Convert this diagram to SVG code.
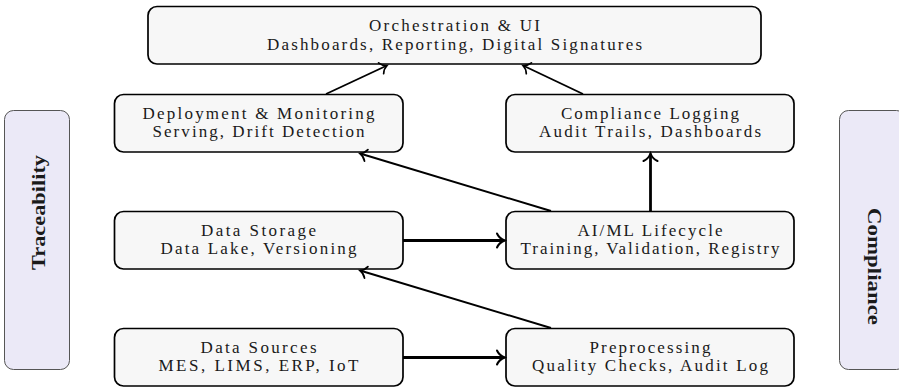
<svg xmlns="http://www.w3.org/2000/svg" width="899" height="387" viewBox="0 0 899 387">
<defs>
<style>
.box{fill:#f7f7f7;stroke:#000;stroke-width:1.7}
.side{fill:#ebe9f7;stroke:#555;stroke-width:1}
.t{font-family:"Liberation Serif","Times New Roman",serif;font-size:17px;fill:#1a1a1a;text-anchor:middle}
.b{font-family:"Liberation Serif","Times New Roman",serif;font-size:19px;font-weight:bold;fill:#1a1a1a;text-anchor:middle}
.thin{stroke:#000;stroke-width:1.9;fill:none;marker-end:url(#ah1)}
.thick{stroke:#000;stroke-width:2.8;fill:none;marker-end:url(#ah2)}
</style>
<marker id="ah1" markerUnits="userSpaceOnUse" viewBox="-10 -8 12 16" refX="0" refY="0" markerWidth="12" markerHeight="16" orient="auto" overflow="visible">
<path d="M-6.5,-6 C-5,-3 -2,-0.8 0,0 C-2,0.8 -5,3 -6.5,6" fill="none" stroke="#000" stroke-width="1.7" stroke-linecap="round"/>
</marker>
<marker id="ah2" markerUnits="userSpaceOnUse" viewBox="-10 -10 12 20" refX="0" refY="0" markerWidth="12" markerHeight="20" orient="auto" overflow="visible">
<path d="M-7.5,-7 C-6,-3.5 -2.5,-1 0,0 C-2.5,1 -6,3.5 -7.5,7" fill="none" stroke="#000" stroke-width="2" stroke-linecap="round"/>
</marker>
</defs>

<g id="traceability">
<rect class="side" x="4.5" y="110.5" width="65" height="259" rx="9"/>
<text class="b" transform="translate(45,212.5) rotate(-90)" textLength="115" lengthAdjust="spacingAndGlyphs">Traceability</text>
</g>
<g id="compliance">
<rect class="side" x="839.5" y="110.5" width="66" height="259" rx="9"/>
<text class="b" transform="translate(868,266.5) rotate(90)" textLength="117" lengthAdjust="spacingAndGlyphs">Compliance</text>
</g>

<g id="orchestration">
<rect class="box" x="148" y="6.5" width="613" height="57.5" rx="9"/>
<text class="t" x="454.5" y="31" textLength="171">Orchestration &amp; UI</text>
<text class="t" x="454.5" y="49.5" textLength="375">Dashboards, Reporting, Digital Signatures</text>
</g>
<g id="deployment">
<rect class="box" x="114.5" y="94.5" width="288.5" height="57.5" rx="9"/>
<text class="t" x="258.5" y="119" textLength="232">Deployment &amp; Monitoring</text>
<text class="t" x="258.5" y="137" textLength="212">Serving, Drift Detection</text>
</g>
<g id="compliance-logging">
<rect class="box" x="506" y="94.5" width="288" height="57.5" rx="9"/>
<text class="t" x="650" y="119" textLength="178">Compliance Logging</text>
<text class="t" x="650" y="137" textLength="222">Audit Trails, Dashboards</text>
</g>
<g id="data-storage">
<rect class="box" x="114.5" y="211.5" width="288.5" height="57.5" rx="9"/>
<text class="t" x="258.5" y="236" textLength="115">Data Storage</text>
<text class="t" x="258.5" y="254" textLength="196">Data Lake, Versioning</text>
</g>
<g id="aiml">
<rect class="box" x="506" y="211.5" width="288" height="57.5" rx="9"/>
<text class="t" x="650" y="236" textLength="145">AI/ML Lifecycle</text>
<text class="t" x="650" y="254" textLength="259">Training, Validation, Registry</text>
</g>
<g id="data-sources">
<rect class="box" x="114.5" y="328.5" width="288.5" height="57.5" rx="9"/>
<text class="t" x="258.5" y="353" textLength="116">Data Sources</text>
<text class="t" x="258.5" y="371" textLength="200">MES, LIMS, ERP, IoT</text>
</g>
<g id="preprocessing">
<rect class="box" x="506" y="328.5" width="288" height="57.5" rx="9"/>
<text class="t" x="650" y="353" textLength="121">Preprocessing</text>
<text class="t" x="650" y="371" textLength="236">Quality Checks, Audit Log</text>
</g>

<g id="connectors">
<line class="thin" x1="326" y1="94" x2="387" y2="65.5"/>
<line class="thin" x1="583" y1="94" x2="523" y2="65.5"/>
<line class="thin" x1="551" y1="211" x2="360" y2="153.5"/>
<line class="thick" x1="650.5" y1="211" x2="650.5" y2="153.5"/>
<line class="thick" x1="403" y1="240.5" x2="504.5" y2="240.5"/>
<line class="thin" x1="551" y1="328" x2="360" y2="270.5"/>
<line class="thick" x1="403" y1="357.5" x2="504.5" y2="357.5"/>
</g>
</svg>
